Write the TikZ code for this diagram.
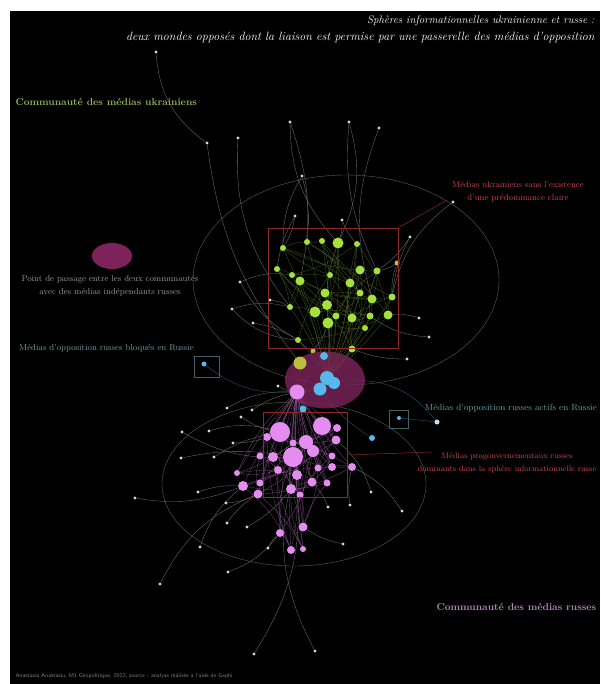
\documentclass[tikz,border=0pt]{standalone}
\usepackage{tikz}
\usetikzlibrary{positioning}
\usetikzlibrary{calc}
\usetikzlibrary{shapes.geometric}
\pgfdeclarelayer{background}
\pgfdeclarelayer{foreground}
\pgfsetlayers{background,main,foreground}

\definecolor{ukrgreen}{RGB}{165,225,60}
\definecolor{ukrolive}{RGB}{185,190,60}
\definecolor{rusviolet}{RGB}{228,140,240}
\definecolor{oppcyan}{RGB}{85,185,235}
\definecolor{periph}{RGB}{215,218,200}
\definecolor{passage}{RGB}{125,35,90}
\definecolor{boxred}{RGB}{140,40,40}
\definecolor{labelred}{RGB}{205,70,80}
\definecolor{labelcyan}{RGB}{110,160,170}
\definecolor{ringgrey}{RGB}{95,95,85}

\begin{document}
\begin{tikzpicture}[x=1pt, y=-1pt,
    media/.style={circle, inner sep=0, draw=none},
    ukr/.style={media, fill=ukrgreen},
    rus/.style={media, fill=rusviolet},
    opp/.style={media, fill=oppcyan},
    leaf/.style={media, fill=periph, minimum size=3.2pt},
    ukr link/.style={draw=ukrgreen!55!black, line width=0.3pt, opacity=0.75},
    rus link/.style={draw=rusviolet!60!black, line width=0.3pt, opacity=0.85},
    long link/.style={draw=ringgrey!90!white, line width=0.35pt},
    ring/.style={draw=ringgrey, line width=0.4pt},
    zone/.style={draw=boxred, line width=0.5pt, inner sep=0},
    opp zone/.style={draw=labelcyan!60!black, line width=0.5pt, inner sep=0},
    legend/.style={font=\fontsize{8.6}{13}\selectfont, align=center, inner sep=0},
]

% Frame of the map
\useasboundingbox (0,0) rectangle (600,684);
\begin{pgfonlayer}{background}
\fill [white] (0,0) rectangle (600,684);
\fill [black] (10,11) rectangle (600,684);
\end{pgfonlayer}

% Ukrainian community
\foreach \x/\y/\r [count=\i] in {
    338/243/5.5, 307/242/3, 322/241/3, 357/244/3, 283/248/3,
    277/269/3, 292/275/3, 300/281/4.5, 330/275/3, 360/270/4.5,
    377/271/3.5, 350/283/4.5, 325/293/4.5, 360/293/3.5, 372/299/4.5,
    392/297/3.5, 290/307/3, 315/312/5.5, 327/305/5, 336/316/3.5,
    328/323/5.5, 352/318/4.5, 370/316/3.5, 388/315/4.5, 365/328/3,
    298/340/3, 352/349/3.5}
    \node [ukr, minimum size=\r*2pt] (u\i) at (\x,\y) {};

\foreach \x/\y [count=\i] in {
    156/52, 290/122, 349/122, 379/128, 207/143, 238/138, 302/176,
    295/216, 342/220, 410/237, 240/282, 270/300, 232/309, 253/323,
    419/318, 429/337, 407/359, 453/202}
    \node [leaf] (ul\i) at (\x,\y) {};
\node [media, fill=ukrolive, minimum size=5pt] (uy1) at (397,263) {};
\node [media, fill=ukrolive, minimum size=5pt] (uy2) at (313,351) {};

% Passage between the two communities
\node [ellipse, fill=passage, opacity=0.8, minimum width=80pt,
    minimum height=57pt] (bridge) at (325,380) {};
\node [media, fill=ukrolive, minimum size=13pt] (uhub) at (300,363) {};

\foreach \x/\y/\r [count=\i] in {
    324/356/4, 327/378/7, 320/389/6.5, 334/383/6, 303/409/3.5,
    372/438/3, 399/418/2, 204/364/2.5}
    \node [opp, minimum size=\r*2pt] (o\i) at (\x,\y) {};
\node [media, fill=oppcyan!40!white, minimum size=5pt] (o9) at (437,422) {};

% Russian community
\foreach \x/\y/\r [count=\i] in {
    297/392/7.5, 280/432/10, 322/426/9, 267/437/4, 337/428/4,
    293/443/3.5, 306/442/7, 313/451/6, 336/440/4.5, 293/457/10,
    273/457/5, 260/456/3.5, 332/456/3.5, 318/468/3.5, 332/467/4,
    352/467/4, 278/470/4, 297/475/5, 312/482/4.5, 327/483/3.5,
    243/486/5, 260/483/3.5, 258/494/4.5, 291/489/5, 300/495/3.5,
    303/527/4.5, 280/533/4, 291/550/4, 303/549/3, 237/473/3}
    \node [rus, minimum size=\r*2pt] (r\i) at (\x,\y) {};

\foreach \x/\y [count=\i] in {
    214/457, 233/443, 209/431, 182/432, 181/458, 227/408, 241/417,
    252/410, 278/386, 198/492, 226/503, 227/523, 247/527, 268/548,
    328/507, 350/505, 371/492, 343/544, 402/511, 200/547, 228/572,
    160/584, 254/654, 315/651, 135/498}
    \node [leaf] (rl\i) at (\x,\y) {};

% Zones
\node [zone, minimum width=130pt, minimum height=120pt] (ukr zone) at (333,288) {};
\node [zone, minimum width=84pt, minimum height=85pt] (rus zone) at (305,455) {};
\node [opp zone, minimum width=25pt, minimum height=21pt] (blocked zone) at (207,367) {};
\node [opp zone, minimum width=19pt, minimum height=18pt] (active zone) at (399,419) {};
\node [ellipse, fill=passage, minimum width=40pt, minimum height=26pt] (key passage) at (112,256) {};

% Links
\begin{pgfonlayer}{background}
\draw [ring] (346,280) ellipse [x radius=153pt, y radius=105pt];
\draw [ring] (294,484) ellipse [x radius=132pt, y radius=82pt];

\foreach \i in {1,...,27} {
    \pgfmathtruncatemacro\j{mod(\i*5+3,27)+1}
    \pgfmathtruncatemacro\k{mod(\i*11+7,27)+1}
    \draw [ukr link] (u\i) to [bend left=12] (u\j);
    \draw [ukr link] (u\i) to [bend right=10] (u\k);
    \draw [ukr link] (u\i) to [bend left=6] (o2);
}
\foreach \i in {1,...,30} {
    \pgfmathtruncatemacro\j{mod(\i*7,30)+1}
    \pgfmathtruncatemacro\k{mod(\i*13+5,30)+1}
    \draw [rus link] (r\i) to [bend left=12] (r\j);
    \draw [rus link] (r\i) to [bend right=10] (r\k);
    \draw [rus link] (r\i) to [bend left=5] (r1);
}
\foreach \a/\b/\c in {
    ul1/ul5/-25, ul5/uhub/-15, ul6/u17/-20, ul2/u8/15, ul2/u1/-20,
    ul3/u11/-15, ul3/u1/20, ul4/u15/-18, ul7/u2/10, ul7/u5/-15,
    ul8/u5/10, ul8/u6/-10, ul9/u1/10, ul9/u4/-10, ul10/u11/10,
    ul10/u16/-10, ul11/u7/15, ul11/u26/-15, ul12/u17/10, ul13/u17/15,
    ul13/u26/-20, ul14/u26/10, ul15/u24/-10, ul16/u23/15, ul17/u27/10,
    ul18/u16/-20, uy1/u11/10, uy1/u16/-10, uy2/u26/10, uy2/u21/-10}
    \draw [long link] (\a) to [bend left=\c] (\b);
\foreach \a/\b/\c in {
    rl1/r2/10, rl2/r2/-10, rl3/r2/15, rl4/r10/-15, rl5/r10/10,
    rl6/r1/15, rl7/r2/-10, rl8/r1/10, rl9/r1/-10, rl10/r21/10,
    rl11/r23/-10, rl12/r23/10, rl13/r24/-10, rl14/r27/10, rl15/r19/-10,
    rl16/r16/10, rl17/r9/-15, rl18/r26/10, rl19/r16/-15, rl20/r21/15,
    rl21/r27/-15, rl22/r23/20, rl23/r10/-20, rl24/r7/25, rl25/r21/-15}
    \draw [long link] (\a) to [bend left=\c] (\b);
\foreach \a in {o1,o3,o4,o5,uhub}
    \draw [ukr link] (\a) -- (r1);
\draw [long link, draw=oppcyan!50!black] (o8) to [bend right=20] (r1);
\draw [long link, draw=oppcyan!50!black] (o7) -- (o9);
\draw [long link, draw=oppcyan!50!black] (o6) to [bend left=10] (o3);
\draw [long link, draw=oppcyan!50!black] (o9) to [bend right=30] (o4);
\end{pgfonlayer}

% Texts
\node [anchor=base east, font=\itshape\fontsize{11}{13}\selectfont, white]
    (title) at (598,24) {Sphères informationnelles ukrainienne et russe :};
\node [anchor=base east, font=\itshape\fontsize{12}{14}\selectfont, white]
    (subtitle) at (598,41) {deux mondes opposés dont la liaison est permise par une passerelle des médias d'opposition};

\node [anchor=base west, font=\bfseries\fontsize{10}{12}\selectfont,
    text=ukrgreen!55!gray] (ukr title) at (12,106) {Communauté des médias ukrainiens};
\node [anchor=base west, font=\bfseries\fontsize{10}{12}\selectfont,
    text=rusviolet!55!gray] (rus title) at (433,610) {Communauté des médias russes};

\node [legend, text=labelred] (ukr label) at (518,192)
    {Médias ukrainiens sans l'existence\\d'une prédominance claire};
\node [legend, font=\fontsize{8}{13}\selectfont, text=labelred] (rus label) at (507,463)
    {Médias progouvernementaux russes\\dominants dans la sphère informationnelle russe};
\node [legend, text=gray!80!white] (passage label) at (110,286)
    {Point de passage entre les deux communautés\\avec des médias indépendants russes};
\node [legend, text=labelcyan, anchor=base west] (blocked label) at (19,350)
    {Médias d'opposition russes bloqués en Russie};
\node [legend, font=\fontsize{8.9}{12}\selectfont, text=labelcyan, anchor=base east]
    (active label) at (597,410) {Médias d'opposition russes actifs en Russie};

\coordinate (ukr tip) at (447,200);
\coordinate (rus tip) at (432,452);
\draw [zone] (ukr zone.north east) -- (ukr tip);
\draw [zone] (rus zone.east) -- (rus tip);

\node [anchor=base west, font=\sffamily\fontsize{5.6}{6}\selectfont, text=gray]
    (credit) at (12,677) {Anastasia Anastasiu, M1 Géopolitique, 2022, source : analyse réalisée à l'aide de Gephi};

\end{tikzpicture}
\end{document}
